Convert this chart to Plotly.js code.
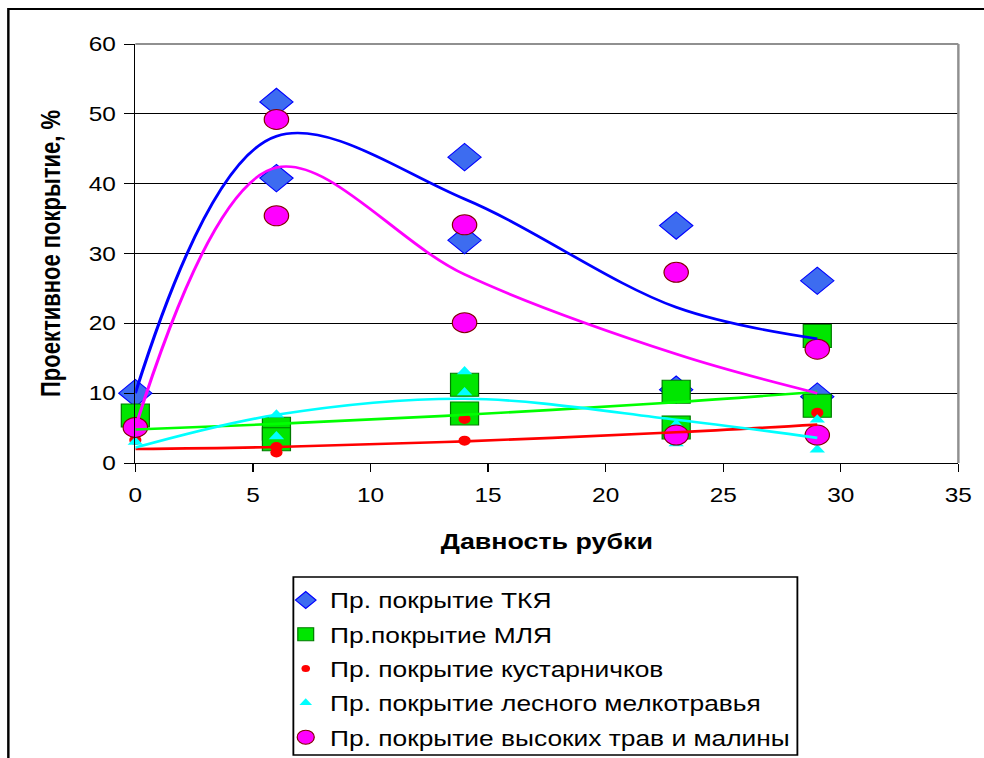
<!DOCTYPE html>
<html>
<head>
<meta charset="utf-8">
<script src="https://cdn.plot.ly/plotly-3.0.1.min.js"></script>
<style>
html,body{margin:0;padding:0;background:#fff;overflow:hidden;}
#wrap{width:984px;height:758px;overflow:hidden;position:relative;}
#chart{width:807px;height:758px;transform:scaleX(1.2193);transform-origin:0 0;position:absolute;left:0;top:0;}
</style>
</head>
<body>
<div id="wrap"><div id="chart"></div></div>
<script>
// Series names (legend)
var seriesNames = [
  "Пр. покрытие ТКЯ",
  "Пр.покрытие МЛЯ",
  "Пр. покрытие кустарничков",
  "Пр. покрытие лесного мелкотравья",
  "Пр. покрытие высоких трав и малины"
];

// Point data (x = давность рубки, y = проективное покрытие, %)
var tkyaX = [0, 6, 6, 14, 14, 23, 23, 29, 29];
var tkyaY = [10, 51.7, 40.8, 43.8, 31.9, 34.0, 10.5, 26.1, 9.5];

var mlyaX = [0, 6, 6, 14, 14, 23, 23, 29, 29];
var mlyaY = [6.8, 4.9, 3.4, 11.2, 7.1, 10.2, 5.1, 18.2, 8.2];

var kustX = [0, 6, 6, 14, 14, 23, 29];
var kustY = [3.3, 1.5, 2.3, 6.3, 3.2, 4.5, 7.2];

var melkX = [0, 6, 6, 14, 14, 23, 23, 29, 29];
var melkY = [3.0, 6.9, 3.8, 13.1, 10.1, 5.5, 2.8, 6.2, 1.9];

var vysX = [0, 6, 6, 14, 14, 23, 23, 29, 29];
var vysY = [5.1, 49.2, 35.4, 34.1, 20.1, 27.3, 4.0, 16.3, 4.0];

// Smoothed trend lines
var trendX = [0, 6, 14, 23, 29];
var tkyaTrend = [10, 46.8, 37.8, 22.3, 17.8];
var mlyaTrend = [4.8, 5.6, 6.9, 8.7, 10.2];
var kustTrend = [2.0, 2.3, 3.1, 4.4, 5.5];
var melkTrend = [2.2, 6.9, 9.2, 6.2, 3.6];
var vysTrend = [5.1, 42.3, 27.0, 15.6, 10.0];

// Axis ticks
var xTicks = [0, 5, 10, 15, 20, 25, 30, 35];
var yTicks = [0, 10, 20, 30, 40, 50, 60];

var markers = [
  {symbol: "diamond", size: 21, color: "#3D6CF0", line: {color: "#0000FF", width: 1}},
  {symbol: "square", size: 23, color: "#00E600", line: {color: "#007A00", width: 1}},
  {symbol: "circle", size: 10, color: "#FF0000", line: {color: "#FF0000", width: 0}},
  {symbol: "triangle-up", size: 11, color: "#00FFFF", line: {color: "#00FFFF", width: 0}},
  {symbol: "circle", size: 20, color: "#FF00FF", line: {color: "#800000", width: 1}}
];
var legendSizes = [13, 13, 7, 9, 14];

function pts(x, y, i) {
  return {x: x, y: y, name: seriesNames[i], type: "scatter", mode: "markers",
          marker: markers[i], cliponaxis: false, showlegend: false, legendgroup: "g" + i};
}
function legendProxy(i) {
  var m = JSON.parse(JSON.stringify(markers[i]));
  m.size = legendSizes[i];
  return {x: [null], y: [null], name: seriesNames[i], type: "scatter", mode: "markers",
          marker: m, showlegend: true, legendgroup: "g" + i};
}
function ln(x, y, color) {
  return {x: x, y: y, type: "scatter", mode: "lines", showlegend: false,
          hoverinfo: "skip", cliponaxis: false,
          line: {color: color, width: 2.6, shape: "spline", smoothing: 1.0}};
}

var data = [
  pts(tkyaX, tkyaY, 0),
  pts(mlyaX, mlyaY, 1),
  pts(kustX, kustY, 2),
  pts(melkX, melkY, 3),
  pts(vysX, vysY, 4),
  ln(trendX, tkyaTrend, "#0000FF"),
  ln(trendX, mlyaTrend, "#00FF00"),
  ln(trendX, kustTrend, "#FF0000"),
  ln(trendX, melkTrend, "#00FFFF"),
  ln(trendX, vysTrend, "#FF00FF"),
  legendProxy(0), legendProxy(1), legendProxy(2), legendProxy(3), legendProxy(4)
];

var font = "Liberation Sans, Arial, sans-serif";

var layout = {
  width: 807, height: 758,
  margin: {l: 110.7, r: 21.3, t: 44, b: 295, autoexpand: false},
  paper_bgcolor: "#FFFFFF", plot_bgcolor: "#FFFFFF",
  font: {family: font, size: 20, color: "#000000"},
  showlegend: true,
  hovermode: false,
  xaxis: {
    range: [0, 35], tickvals: xTicks, ticktext: xTicks.map(String),
    showgrid: false, zeroline: false,
    showline: true, linecolor: "#000000", linewidth: 1,
    ticks: "outside", ticklen: 8, tickcolor: "#000000",
    tickfont: {family: font, size: 20},
    ticklabelstandoff: 6,
    title: {text: "<b>Давность рубки</b>", font: {family: font, size: 22}, standoff: 28}
  },
  yaxis: {
    range: [0, 60], tickvals: yTicks, ticktext: yTicks.map(String),
    showgrid: true, gridcolor: "#000000", gridwidth: 1,
    zeroline: false,
    showline: true, linecolor: "#000000", linewidth: 1,
    ticks: "outside", ticklen: 8, tickcolor: "#000000",
    tickfont: {family: font, size: 20},
    ticklabelstandoff: 3,
    title: {text: "<b>Проективное покрытие, %</b>", font: {family: font, size: 22}, standoff: 16}
  },
  legend: {
    x: 0.1774, y: -0.278, xanchor: "left", yanchor: "top",
    bgcolor: "rgba(0,0,0,0)", borderwidth: 0,
    font: {family: font, size: 21.6, color: "#000000"},
    tracegroupgap: 3.2, traceorder: "grouped"
  },
  shapes: [
    {type: "line", xref: "paper", yref: "paper", x0: 0, x1: 1, y0: 1, y1: 1,
     line: {color: "#909090", width: 2}, layer: "above"},
    {type: "line", xref: "paper", yref: "paper", x0: 1, x1: 1, y0: 0, y1: 1,
     line: {color: "#909090", width: 2}, layer: "above"},
    {type: "rect", xref: "paper", yref: "paper", x0: -0.1543, x1: 1.04, y0: -0.9, y1: 1.0835,
     line: {color: "#000000", width: 2}, fillcolor: "rgba(0,0,0,0)", layer: "below"},
    {type: "rect", xref: "paper", yref: "paper", x0: 0.192, x1: 0.8044, y0: -0.6969, y1: -0.2721,
     line: {color: "#000000", width: 1.5}, fillcolor: "rgba(0,0,0,0)", layer: "above"}
  ]
};

Plotly.newPlot("chart", data, layout, {displayModeBar: false, staticPlot: true});
</script>
</body>
</html>
